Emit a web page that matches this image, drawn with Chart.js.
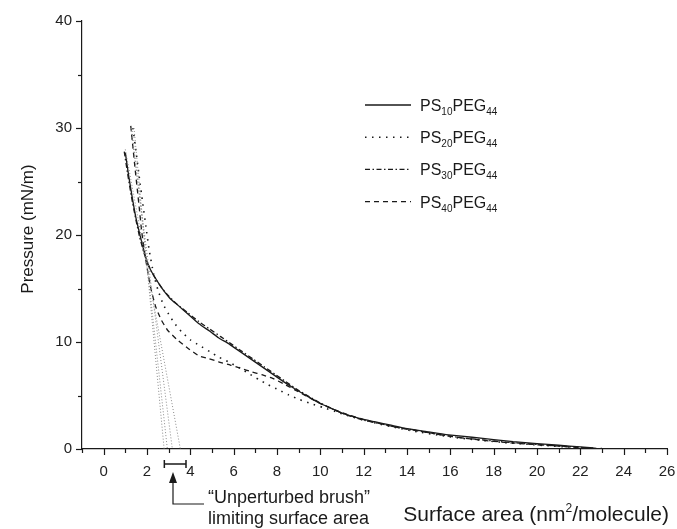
<!DOCTYPE html>
<html><head><meta charset="utf-8">
<script src="https://cdn.jsdelivr.net/npm/chart.js@4.4.1/dist/chart.umd.min.js"></script>
<style>html,body{margin:0;padding:0;background:#fff;}#wrap{width:677px;height:529px;position:relative;}</style>
</head><body><div id="wrap"><canvas id="c" width="677" height="529"></canvas></div>
<script>
// ---- axis ranges / ticks ----
const xMin = -1, xMax = 26;
const yMin = 0, yMax = 40;
const xTickLabels = [0, 2, 4, 6, 8, 10, 12, 14, 16, 18, 20, 22, 24, 26];
const yTickLabels = [0, 10, 20, 30, 40];

// ---- series names (PS_n PEG_m) ----
const seriesPS = ['10', '20', '30', '40'];
const seriesPEG = ['44', '44', '44', '44'];

// ---- PS10PEG44 (solid) ----
const ps10X = [1.0,1.15,1.32,1.5,1.7,1.85,2.0,2.15,2.35,2.6,2.85,3.1,3.45,3.9,4.4,4.9,5.3,5.8,6.3,6.8,7.3,7.8,8.3,8.8,9.3,9.9,10.5,11.0,11.8,12.5,13.2,14,15,15.8,17,18,18.9,20,21,22,22.6];
const ps10Y = [27.7,25.6,23.5,21.5,19.8,18.6,17.5,16.8,16.1,15.3,14.6,14.0,13.4,12.6,11.7,11.0,10.4,9.8,9.1,8.4,7.7,7.0,6.3,5.65,5.05,4.35,3.8,3.35,2.86,2.55,2.25,1.9,1.6,1.35,1.1,0.88,0.68,0.5,0.35,0.2,0.1];

// ---- PS20PEG44 (dotted) ----
const ps20X = [1.35,1.5,1.65,1.8,1.95,2.1,2.3,2.5,2.75,3.0,3.25,3.6,4.0,4.4,4.9,5.3,5.8,6.3,6.7,7.15,7.6,8.1,8.55,9.0,9.55,10.1,10.7,11.3,12,12.8,13.6,14.5,15.5,16.5,17.5,18.5,19.5,20.5,21.5,22.5];
const ps20Y = [30.0,27.7,25.3,23.0,20.8,18.6,16.4,14.9,13.5,12.6,11.8,10.95,10.2,9.7,9.1,8.6,8.1,7.55,7.05,6.5,6.0,5.5,5.05,4.65,4.25,3.9,3.5,3.1,2.7,2.3,1.95,1.6,1.28,1.0,0.8,0.6,0.45,0.3,0.18,0.05];

// ---- PS30PEG44 (dash-dot) ----
const ps30X = [0.95,1.1,1.28,1.47,1.65,1.85,2.0,2.2,2.4,2.7,3.0,3.4,3.9,4.4,4.9,5.4,5.9,6.4,6.9,7.4,7.9,8.4,8.9,9.4,10,10.6,11.2,12,12.8,13.6,14.5,15.5,16.5,17.5,18.5,19.5,20.5,21.5,22.5];
const ps30Y = [27.8,25.8,23.6,21.6,19.9,18.4,17.5,16.6,15.9,15.0,14.3,13.5,12.7,11.9,11.2,10.5,9.8,9.1,8.4,7.7,7.0,6.3,5.6,5.0,4.3,3.7,3.2,2.7,2.35,2.0,1.7,1.35,1.05,0.85,0.65,0.5,0.35,0.22,0.08];

// ---- PS40PEG44 (dashed) ----
const ps40X = [1.25,1.35,1.45,1.55,1.65,1.75,1.9,2.05,2.2,2.4,2.65,2.95,3.4,3.9,4.4,4.85,5.3,5.85,6.3,6.85,7.3,7.8,8.3,8.8,9.3,9.9,10.5,11.2,12,12.8,13.6,14.5,15.5,16.5,17.5,18.5,19.5,20.5,21.5,22.3,23.0];
const ps40Y = [30.2,28.2,26.2,24.3,22.4,20.4,18.2,16.4,14.8,13.3,12.1,11.1,10.2,9.4,8.7,8.45,8.15,7.85,7.55,7.2,6.95,6.6,6.1,5.55,5.0,4.35,3.8,3.25,2.75,2.35,2.0,1.7,1.35,1.05,0.82,0.62,0.47,0.33,0.2,0.1,0.05];

// ---- extrapolation lines (start x, end x ; start y, end y) ----
const extrapX = [[1.4, 2.79], [1.3, 2.94], [1.25, 3.17], [1.0, 3.54]];
const extrapY = [[30, 0], [30, 0], [30, 0], [28, 0]];

// ---- annotation ----
const bracketRange = [2.8, 3.8];
const arrowAt = 3.2;
const annotationLines = ['\u201CUnperturbed brush\u201D', 'limiting surface area'];

const FONT = "'Liberation Sans', Arial, Helvetica, sans-serif";
const INK = '#1a1a1a';

function pts(xs, ys) { return xs.map((v, i) => ({x: v, y: ys[i]})); }

const styles = [
  {dash: [], width: 1.3},
  {dash: [1.5, 5.5], width: 1.6},
  {dash: [5, 2.5, 1.5, 2.5], width: 1.3},
  {dash: [5, 4], width: 1.3}
];
const seriesX = [ps10X, ps20X, ps30X, ps40X];
const seriesY = [ps10Y, ps20Y, ps30Y, ps40Y];

const datasets = [];
extrapX.forEach((xs, i) => datasets.push({
  data: pts(xs, extrapY[i]), showLine: true, pointRadius: 0,
  borderColor: '#8a8a8a', borderWidth: 1, borderDash: [1, 2], fill: false
}));
seriesX.forEach((xs, i) => datasets.push({
  label: 'PS' + seriesPS[i] + 'PEG' + seriesPEG[i],
  data: pts(xs, seriesY[i]), showLine: true, pointRadius: 0,
  borderColor: INK, borderWidth: styles[i].width, borderDash: styles[i].dash,
  tension: 0.15, fill: false
}));

const deco = {
  id: 'deco',
  afterDraw(chart) {
    const {ctx, chartArea: ca, scales: {x, y}} = chart;
    ctx.save();
    ctx.strokeStyle = INK; ctx.fillStyle = INK; ctx.lineWidth = 1.2;
    // x ticks (major every 2, minor every 1)
    for (let v = xMin; v <= xMax; v++) {
      const px = Math.round(x.getPixelForValue(v)) + 0.5;
      const len = (v % 2 === 0) ? 6 : 4;
      ctx.beginPath(); ctx.moveTo(px, ca.bottom); ctx.lineTo(px, ca.bottom + len); ctx.stroke();
    }
    for (let v = yMin; v <= yMax; v += 5) {
      const py = Math.round(y.getPixelForValue(v)) + 0.5;
      const len = (v % 10 === 0) ? 6 : 4;
      ctx.beginPath(); ctx.moveTo(ca.left - len, py); ctx.lineTo(ca.left, py); ctx.stroke();
    }
    // y title
    ctx.save();
    ctx.translate(28, (ca.top + ca.bottom) / 2 - 6);
    ctx.rotate(-Math.PI / 2);
    ctx.font = '17px ' + FONT; ctx.textAlign = 'center'; ctx.textBaseline = 'middle';
    ctx.fillText('Pressure (mN/m)', 0, 0);
    ctx.restore();
    // x title with superscript
    {
      const big = '21px ' + FONT, small = '12px ' + FONT;
      const p1 = 'Surface area (nm', p2 = '2', p3 = '/molecule)';
      ctx.textBaseline = 'alphabetic'; ctx.textAlign = 'left';
      ctx.font = big; const w1 = ctx.measureText(p1).width, w3 = ctx.measureText(p3).width;
      ctx.font = small; const w2 = ctx.measureText(p2).width;
      const total = w1 + w2 + w3;
      let sx = 669 - total; const base = 521;
      ctx.font = big; ctx.fillText(p1, sx, base); sx += w1;
      ctx.font = small; ctx.fillText(p2, sx, base - 9); sx += w2;
      ctx.font = big; ctx.fillText(p3, sx, base);
    }
    // bracket
    const bx1 = x.getPixelForValue(bracketRange[0]), bx2 = x.getPixelForValue(bracketRange[1]);
    const by = ca.bottom + 15;
    ctx.lineWidth = 1.5;
    ctx.beginPath(); ctx.moveTo(bx1, by); ctx.lineTo(bx2, by);
    ctx.moveTo(bx1, by - 4); ctx.lineTo(bx1, by + 4);
    ctx.moveTo(bx2, by - 4); ctx.lineTo(bx2, by + 4); ctx.stroke();
    // arrow
    const ax = x.getPixelForValue(arrowAt);
    const tip = ca.bottom + 23, elbow = ca.bottom + 55;
    ctx.lineWidth = 1.2;
    ctx.beginPath(); ctx.moveTo(ax, tip + 8); ctx.lineTo(ax, elbow); ctx.lineTo(204, elbow); ctx.stroke();
    ctx.beginPath(); ctx.moveTo(ax, tip); ctx.lineTo(ax - 4, tip + 11); ctx.lineTo(ax + 4, tip + 11); ctx.closePath(); ctx.fill();
    // annotation text
    ctx.font = '18px ' + FONT; ctx.textAlign = 'left'; ctx.textBaseline = 'middle';
    ctx.fillText(annotationLines[0], 208, 498);
    ctx.fillText(annotationLines[1], 208, 519);
    // legend
    for (let i = 0; i < seriesPS.length; i++) {
      const ly = 105 + 32.2 * i;
      ctx.save();
      ctx.lineWidth = styles[i].width; ctx.setLineDash(styles[i].dash);
      ctx.beginPath(); ctx.moveTo(365, ly); ctx.lineTo(411, ly); ctx.stroke();
      ctx.restore();
      let tx = 420;
      ctx.textBaseline = 'alphabetic'; ctx.textAlign = 'left';
      const base = ly + 6;
      const parts = [['PS', false], [seriesPS[i], true], ['PEG', false], [seriesPEG[i], true]];
      parts.forEach(([t, sub]) => {
        ctx.font = (sub ? '10px ' : '16px ') + FONT;
        ctx.fillText(t, tx, sub ? base + 4 : base);
        tx += ctx.measureText(t).width;
      });
    }
    ctx.restore();
  }
};

new Chart(document.getElementById('c'), {
  type: 'scatter',
  data: {datasets},
  options: {
    responsive: false, animation: false, maintainAspectRatio: false,
    layout: {padding: {top: 21, right: 10, left: 0, bottom: 0}},
    plugins: {legend: {display: false}, tooltip: {enabled: false}},
    scales: {
      x: {
        type: 'linear', min: xMin, max: xMax,
        afterFit: s => { s.height = 80; s.paddingLeft = 0; s.paddingRight = 0; },
        grid: {display: false, drawTicks: false},
        border: {display: true, color: INK, width: 1.2},
        ticks: {
          stepSize: 1, autoSkip: false, maxRotation: 0, padding: 14,
          color: '#222', font: {family: FONT, size: 15},
          callback: v => xTickLabels.includes(v) ? String(v) : ''
        }
      },
      y: {
        type: 'linear', min: yMin, max: yMax,
        afterFit: s => { s.width = 82; s.paddingTop = 0; s.paddingBottom = 0; },
        grid: {display: false, drawTicks: false},
        border: {display: true, color: INK, width: 1.2},
        ticks: {
          stepSize: 5, autoSkip: false, padding: 10,
          color: '#222', font: {family: FONT, size: 15},
          callback: v => yTickLabels.includes(v) ? String(v) : ''
        }
      }
    }
  },
  plugins: [deco]
});
</script></body></html>
